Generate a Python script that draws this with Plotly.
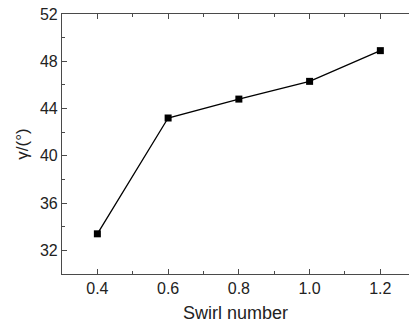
import plotly.graph_objects as go

swirl = [0.4, 0.6, 0.8, 1.0, 1.2]
gamma = [33.4, 43.2, 44.8, 46.3, 48.9]

x_ticks = [0.4, 0.6, 0.8, 1.0, 1.2]
x_labels = ["0.4", "0.6", "0.8", "1.0", "1.2"]
y_ticks = [32, 36, 40, 44, 48, 52]

font_family = "Liberation Sans, Arial, sans-serif"
axis_col = "#4a4a4a"

fig = go.Figure()
fig.add_trace(go.Scatter(
    x=swirl, y=gamma, mode="lines+markers",
    line=dict(color="black", width=1.3),
    marker=dict(symbol="square", size=7, color="black"),
    showlegend=False,
))

fig.update_layout(
    width=409, height=327,
    margin=dict(l=62, r=0, t=14, b=53),
    paper_bgcolor="white", plot_bgcolor="white",
    font=dict(family=font_family, size=16, color="#222222"),
)
fig.update_xaxes(
    range=[0.3, 1.281],
    tickvals=x_ticks, ticktext=x_labels,
    ticks="inside", ticklen=5, tickwidth=1, tickcolor=axis_col,
    minor=dict(dtick=0.1, tick0=0.3, ticks="inside", ticklen=3, tickcolor=axis_col, showgrid=False),
    showline=True, linecolor=axis_col, linewidth=1.2, mirror="allticks",
    showgrid=False, zeroline=False,
    title=dict(text="Swirl number", font=dict(size=18), standoff=10),
    tickfont=dict(size=16),
)
fig.update_yaxes(
    range=[30, 52],
    tickvals=y_ticks,
    ticks="inside", ticklen=5, tickwidth=1, tickcolor=axis_col,
    minor=dict(dtick=2, tick0=30, ticks="inside", ticklen=3, tickcolor=axis_col, showgrid=False),
    showline=True, linecolor=axis_col, linewidth=1.2, mirror=False,
    showgrid=False, zeroline=False,
    title=dict(text="γ/(°)", font=dict(size=17), standoff=6),
    tickfont=dict(size=16),
)

fig.write_html("out.html")
